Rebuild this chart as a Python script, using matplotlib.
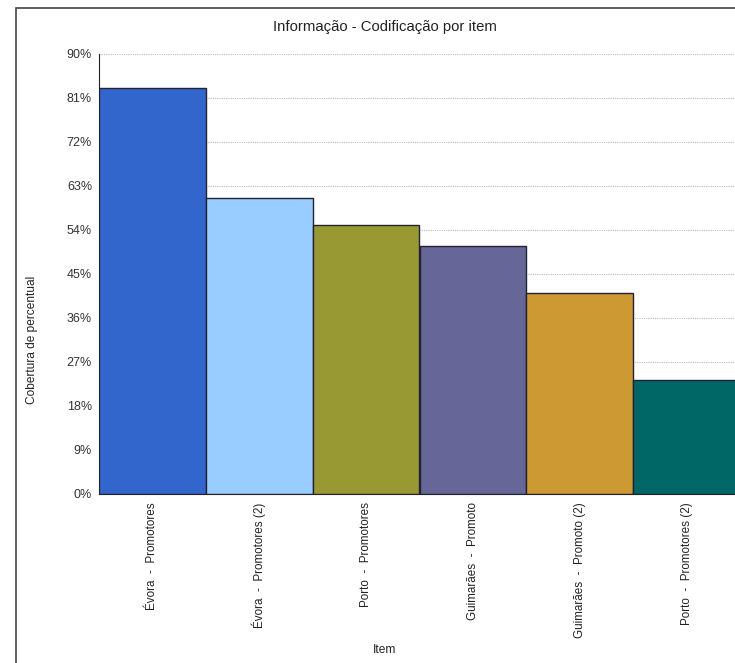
import matplotlib.pyplot as plt
import matplotlib.patches as mpatches
import numpy as np

plt.rcParams['font.family'] = ['Liberation Sans', 'DejaVu Sans']

items = ['Évora  -  Promotores', 'Évora  -  Promotores (2)', 'Porto  -  Promotores',
         'Guimarães  -  Promoto', 'Guimarães  -  Promoto (2)', 'Porto  -  Promotores (2)']
coverage = [83.0, 60.5, 55.0, 50.7, 41.1, 23.3]
colors = ['#3366CC', '#99CCFF', '#999933', '#666699', '#CC9933', '#006666']
yticks = [0, 9, 18, 27, 36, 45, 54, 63, 72, 81, 90]

W, H = 735, 663
fig = plt.figure(figsize=[W / 100, H / 100], dpi=100)

# outer frame of the original chart (cropped on right/bottom)
fig.patches.append(mpatches.Rectangle((16 / W, -0.1), 2, (H - 8) / H + 0.1,
                                      transform=fig.transFigure, fill=False,
                                      edgecolor='#444444', linewidth=1.2))

ax = fig.add_axes([99 / W, (H - 494) / H, (740 - 99) / W, 440 / H])

x = np.arange(len(items))
ax.bar(x, coverage, width=1.0, color=colors, edgecolor='#222233', linewidth=1, zorder=3)

ax.set_xlim(-0.5, len(items) - 0.5)
ax.set_ylim(0, 90)
ax.set_yticks(yticks)
ax.set_yticklabels([f'{t}%' for t in yticks], fontsize=9, color='#333333')
ax.set_xticks(x)
ax.set_xticklabels(items, rotation=90, fontsize=8.4, color='#222222')
ax.tick_params(axis='both', length=0, pad=5)
ax.tick_params(axis='x', pad=6)

ax.grid(axis='y', linestyle=(0, (1, 1)), color='#bbbbbb', linewidth=0.8, zorder=0)
for s in ['top', 'right']:
    ax.spines[s].set_visible(False)
ax.spines['left'].set_color('#222222')
ax.spines['bottom'].set_color('#222222')

fig.text(385 / W, 1 - 27 / H, 'Informação - Codificação por item', ha='center', va='center',
         fontsize=10.7, color='#222222')
fig.text(385 / W, 1 - 650 / H, 'Item', ha='center', va='center', fontsize=8.6, color='#222222')
fig.text(32 / W, 1 - 340 / H, 'Cobertura de percentual', ha='center', va='center',
         rotation=90, fontsize=8.6, color='#222222')

fig.savefig('out.png', dpi=100)
